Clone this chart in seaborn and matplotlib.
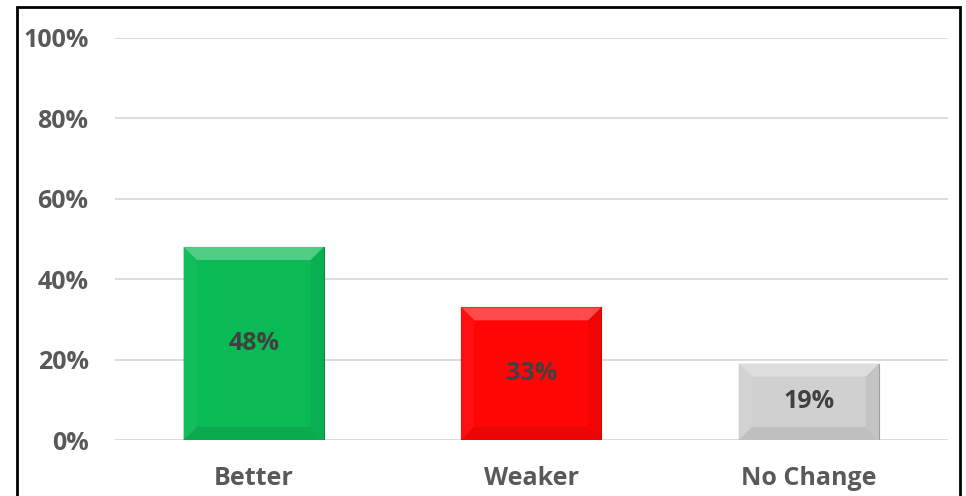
import matplotlib
matplotlib.use("Agg")
import matplotlib.pyplot as plt
import seaborn as sns
import pandas as pd
from matplotlib.patches import Polygon, Rectangle
from matplotlib.colors import to_rgb

categorias = ["Better", "Weaker", "No Change"]
valores = [48, 33, 19]
cores = ["#0ABA55", "#FF0505", "#D0D0D0"]
rotulos_y = ["0%", "20%", "40%", "60%", "80%", "100%"]

sns.set_theme(style="white")
plt.rcParams["font.family"] = ["Open Sans", "DejaVu Sans"]

fig = plt.figure(figsize=(9.66, 4.96), dpi=100)
ax = fig.add_axes([0.119, 0.1129, 0.862, 0.8105])

df = pd.DataFrame({"cat": categorias, "val": valores})
sns.barplot(data=df, x="cat", y="val", hue="cat", palette=cores, width=0.505,
            legend=False, ax=ax, zorder=3, saturation=1)

ax.set_ylim(0, 100)
ax.set_xlim(-0.5, 2.5)
ax.set_yticks(range(0, 101, 20))
ax.set_yticklabels(rotulos_y)
ax.yaxis.grid(True, color="#D9D9D9", linewidth=1.3, zorder=0)
ax.set_axisbelow(True)
for s in ax.spines.values():
    s.set_visible(False)
ax.tick_params(axis="y", length=0, pad=19, labelsize=18, labelcolor="#595959")
ax.tick_params(axis="x", length=0, pad=19, labelsize=18, labelcolor="#595959")
for lab in ax.get_xticklabels() + ax.get_yticklabels():
    lab.set_fontweight("bold")
ax.set_xlabel("")
ax.set_ylabel("")


def mistura(c, alvo, f):
    c = to_rgb(c)
    return tuple(a + (b - a) * f for a, b in zip(c, alvo))


# efeito de chanfro nas barras (calculado a partir das barras desenhadas)
dx = 13 / 278.0
dy = 13 * 100 / 402.0
for barra, cor, v in zip(ax.patches, cores, valores):
    x0 = barra.get_x()
    w = barra.get_width()
    h = barra.get_height()
    x1 = x0 + w
    barra.set_edgecolor(mistura(cor, (0, 0, 0), 0.25))
    barra.set_linewidth(0.8)
    topo = Polygon([(x0, h), (x1, h), (x1 - dx, h - dy), (x0 + dx, h - dy)],
                   closed=True, facecolor=mistura(cor, (1, 1, 1), 0.28), edgecolor="none", zorder=4)
    base = Polygon([(x0, 0), (x1, 0), (x1 - dx, dy), (x0 + dx, dy)],
                   closed=True, facecolor=mistura(cor, (0, 0, 0), 0.08), edgecolor="none", zorder=4)
    esq = Polygon([(x0, 0), (x0, h), (x0 + dx, h - dy), (x0 + dx, dy)],
                  closed=True, facecolor=mistura(cor, (1, 1, 1), 0.04), edgecolor="none", zorder=4)
    dir_ = Polygon([(x1, 0), (x1, h), (x1 - dx, h - dy), (x1 - dx, dy)],
                   closed=True, facecolor=mistura(cor, (0, 0, 0), 0.06), edgecolor="none", zorder=4)
    for p in (topo, base, esq, dir_):
        ax.add_patch(p)
    ax.text(x0 + w / 2, h / 2, f"{v}%", ha="center", va="center", fontsize=18,
            fontweight="bold", color="#404040", zorder=5)

# moldura
fig.patches.append(Rectangle((17 / 966, -0.05), (960 - 17) / 966, 1.05 - 7 / 496,
                             transform=fig.transFigure, fill=False, edgecolor="black",
                             linewidth=2, zorder=10))

fig.savefig("out.png", dpi=100)
